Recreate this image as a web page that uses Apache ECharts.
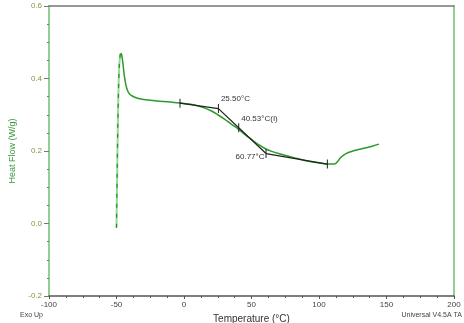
<!DOCTYPE html>
<html>
<head>
<meta charset="utf-8">
<script src="https://cdn.jsdelivr.net/npm/echarts@6/dist/echarts.min.js"></script>
<style>
html, body { margin: 0; padding: 0; background: #fff; }
#chart { width: 464px; height: 323px; }
</style>
</head>
<body>
<div id="chart"></div>
<script>
// DSC curve (temperature in °C, heat flow in W/g)
const riseTemp = [-50, -49.7, -49.4, -49.1, -48.8, -48.4, -47.9, -47.3, -46.7]
const riseFlow = [-0.012, 0.08, 0.17, 0.25, 0.32, 0.39, 0.44, 0.465, 0.47]
const curveTemp = [-46.7, -46, -45.2, -44.3, -43.2, -42, -40.5, -38, -35, -30, -25, -20, -10, 0, 5, 10, 15, 20, 25, 30, 35, 40, 45, 50, 55, 60, 65, 70, 80, 90, 100, 106, 112, 114, 116, 120, 125, 130, 135, 140, 144.4]
const curveFlow = [0.47, 0.462, 0.44, 0.41, 0.385, 0.368, 0.358, 0.351, 0.346, 0.342, 0.34, 0.338, 0.335, 0.331, 0.329, 0.325, 0.319, 0.311, 0.3, 0.288, 0.274, 0.261, 0.246, 0.232, 0.218, 0.207, 0.199, 0.193, 0.183, 0.173, 0.167, 0.164, 0.165, 0.172, 0.182, 0.193, 0.2, 0.205, 0.209, 0.214, 0.219]
// tangent construction points
const tanTemp = [-3, 25.5, 40.53, 60.77, 106.2]
const tanFlow = [0.332, 0.317, 0.264, 0.193, 0.164]
const tanLabels = ['', '25.50°C', '40.53°C(I)', '60.77°C', '']

const chart = echarts.init(document.getElementById('chart'))
const font = 'Liberation Sans, Arial, sans-serif'

chart.setOption({
  animation: false,
  textStyle: { fontFamily: font },
  grid: { left: 49, right: 10, top: 6, bottom: 27, outerBoundsMode: 'none' },
  xAxis: [
    {
      type: 'value', min: -100, max: 200, interval: 50,
      name: 'Temperature (°C)', nameLocation: 'middle', nameGap: 14,
      nameTextStyle: { color: '#333', fontSize: 10, fontFamily: font },
      axisLine: { onZero: false, lineStyle: { color: '#555', width: 1.5 } },
      axisTick: { length: 3, lineStyle: { color: '#555' } },
      minorTick: { show: true, splitNumber: 4, length: 2, lineStyle: { color: '#555' } },
      axisLabel: { color: '#444', fontSize: 8, margin: 5 },
      splitLine: { show: false }
    },
    {
      type: 'value', position: 'top', min: -100, max: 200,
      axisLine: { show: true, onZero: false, lineStyle: { color: '#777', width: 1.5 } },
      axisTick: { show: false }, axisLabel: { show: false }, splitLine: { show: false }
    }
  ],
  yAxis: [
    {
      type: 'value', min: -0.2, max: 0.6, interval: 0.2,
      name: 'Heat Flow (W/g)', nameLocation: 'middle', nameGap: 28, nameRotate: 90,
      nameTextStyle: { color: '#3a9a3a', fontSize: 9, fontFamily: font },
      axisLine: { show: true, onZero: false, lineStyle: { color: '#8fd08f', width: 2 } },
      axisTick: { length: 5, lineStyle: { color: '#777' } },
      minorTick: { show: true, splitNumber: 4, length: 2, lineStyle: { color: '#777' } },
      axisLabel: { color: '#7f9a3c', fontSize: 8, margin: 7, formatter: v => v.toFixed(1) },
      splitLine: { show: false }
    },
    {
      type: 'value', position: 'right', min: -0.2, max: 0.6,
      axisLine: { show: true, onZero: false, lineStyle: { color: '#8fd08f', width: 2 } },
      axisTick: { show: false }, axisLabel: { show: false }, splitLine: { show: false }
    }
  ],
  series: [
    {
      type: 'line', showSymbol: false, z: 2,
      data: riseTemp.map((t, i) => [t, riseFlow[i]]),
      lineStyle: { color: '#9ad69a', width: 2 }
    },
    {
      type: 'line', showSymbol: false, z: 3,
      data: riseTemp.map((t, i) => [t, riseFlow[i]]),
      lineStyle: { color: '#1f8f1f', width: 1.2, type: [4, 6] }
    },
    {
      type: 'line', showSymbol: false, smooth: 0.3, z: 3,
      data: curveTemp.map((t, i) => [t, curveFlow[i]]),
      lineStyle: { color: '#2a9a2a', width: 1.5 }
    },
    {
      type: 'line', z: 4,
      symbol: 'path://M0,0H1V10H0Z', symbolSize: [1, 9],
      itemStyle: { color: '#222' },
      lineStyle: { color: '#222', width: 1.2 },
      data: tanTemp.map((t, i) => ({
        value: [t, tanFlow[i]],
        label: {
          show: tanLabels[i] !== '',
          formatter: tanLabels[i],
          position: i === 3 ? [-30, 4] : [3, -9],
          color: '#333', fontSize: 8, fontFamily: font
        }
      }))
    }
  ],
  graphic: [
    { type: 'text', left: 20, top: 312, style: { text: 'Exo Up', fill: '#444', fontSize: 7, fontFamily: font } },
    { type: 'text', right: 2, top: 312, style: { text: 'Universal V4.5A TA', fill: '#444', fontSize: 7, fontFamily: font } }
  ]
})
</script>
</body>
</html>
